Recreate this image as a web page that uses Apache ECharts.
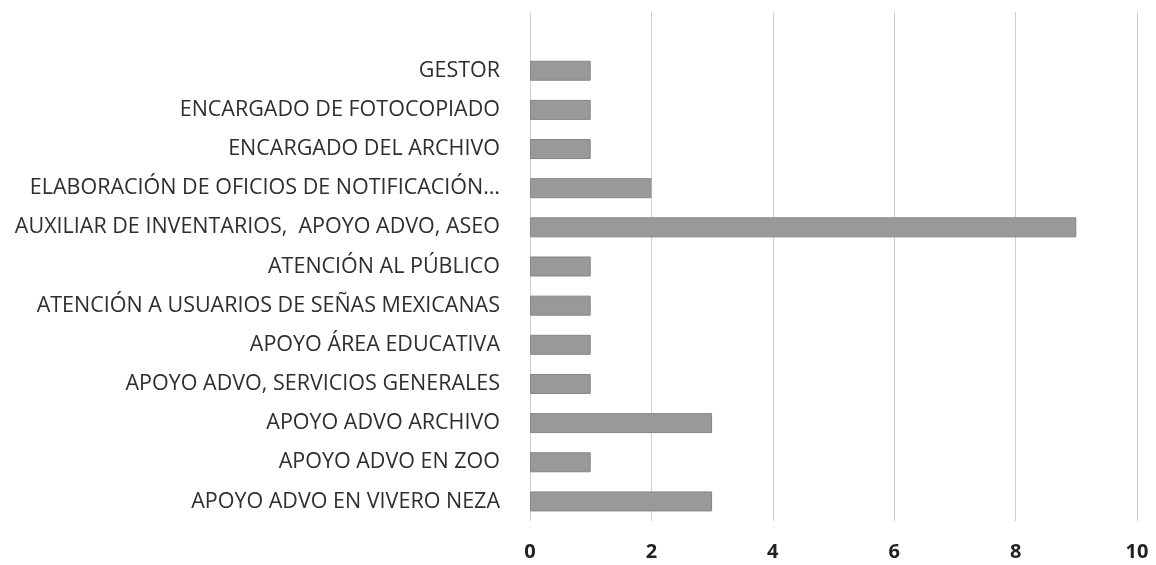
<!DOCTYPE html>
<html>
<head>
<meta charset="utf-8">
<script src="https://cdn.jsdelivr.net/npm/echarts@6/dist/echarts.min.js"></script>
<style>
  html, body { margin: 0; padding: 0; background: #fff; }
  #chart { width: 1156px; height: 565px; }
</style>
</head>
<body>
<div id="chart"></div>
<script>
// categories from bottom to top; the empty one leaves the blank band at the top
const categories = [
  'APOYO ADVO EN VIVERO NEZA',
  'APOYO ADVO EN ZOO',
  'APOYO ADVO ARCHIVO',
  'APOYO ADVO, SERVICIOS GENERALES',
  'APOYO ÁREA EDUCATIVA',
  'ATENCIÓN A USUARIOS DE SEÑAS MEXICANAS',
  'ATENCIÓN AL PÚBLICO',
  'AUXILIAR DE INVENTARIOS,  APOYO ADVO, ASEO',
  'ELABORACIÓN DE OFICIOS DE NOTIFICACIÓN…',
  'ENCARGADO DEL ARCHIVO',
  'ENCARGADO DE FOTOCOPIADO',
  'GESTOR',
  ''
];
const values = [3, 1, 3, 1, 1, 1, 1, 9, 2, 1, 1, 1, null];

const chart = echarts.init(document.getElementById('chart'));

chart.setOption({
  backgroundColor: '#fff',
  animation: false,
  grid: { left: 530, right: 19, top: 12, bottom: 44, containLabel: false },
  xAxis: {
    type: 'value',
    min: 0,
    max: 10,
    interval: 2,
    axisLine: { show: false },
    axisTick: { show: false },
    axisLabel: {
      margin: 21,
      color: '#222',
      fontSize: 20,
      fontWeight: 'bold',
      fontFamily: 'Open Sans'
    },
    splitLine: { lineStyle: { color: '#d0d0d0', width: 1 } }
  },
  yAxis: {
    type: 'category',
    data: categories,
    axisLine: { show: false },
    axisTick: { show: false },
    axisLabel: {
      margin: 30,
      color: '#2e2e2e',
      fontSize: 21.5,
      fontFamily: 'Open Sans'
    }
  },
  series: [{
    type: 'bar',
    data: values,
    barWidth: 20,
    itemStyle: { color: '#999999', borderColor: '#858585', borderWidth: 1 }
  }]
});
</script>
</body>
</html>
